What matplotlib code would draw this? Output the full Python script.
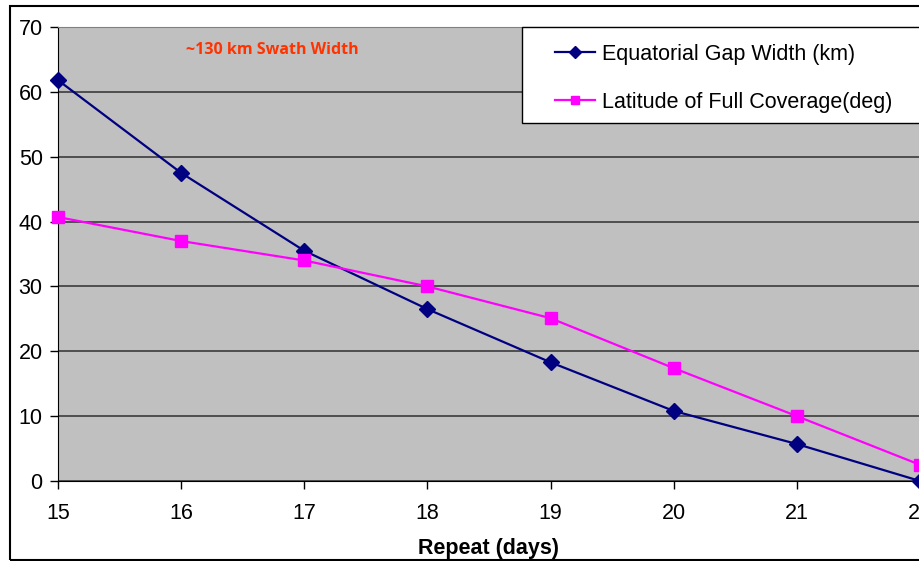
import numpy as np
import matplotlib.pyplot as plt
from matplotlib.patches import Rectangle

plt.rcParams['font.family'] = ['Liberation Sans', 'DejaVu Sans']

repeat_days = [15, 16, 17, 18, 19, 20, 21, 22]
gap_width = [61.8, 47.5, 35.5, 26.5, 18.3, 10.8, 5.7, 0.0]
full_lat = [40.7, 37.0, 34.0, 30.0, 25.1, 17.4, 10.0, 2.5]

fig = plt.figure(figsize=(9.19, 5.61), dpi=100)
ax = fig.add_axes([58 / 919, 1 - 481 / 561, 862 / 919, 454 / 561])
ax.set_facecolor('#C0C0C0')

# outer chart border
fig.patches.append(Rectangle((9.5 / 919, 1.5 / 561), 1.2, 554 / 561, transform=fig.transFigure,
                             fill=False, edgecolor='black', linewidth=1.5))

ax.plot(repeat_days, gap_width, '-D', color='#000080', lw=1.6, ms=8,
        label='Equatorial Gap Width (km)', clip_on=False, zorder=3)
ax.plot(repeat_days, full_lat, '-s', color='#FF00FF', lw=1.6, ms=8,
        label='Latitude of Full Coverage(deg)', clip_on=False, zorder=3)

ax.set_xlim(15, 22)
ax.set_ylim(0, 70)
ax.set_yticks(np.arange(0, 71, 10))
ax.set_xticks(repeat_days)
ax.grid(axis='y', color='#303030', lw=1.1)
ax.set_axisbelow(True)
ax.tick_params(labelsize=15.5, length=6, color='black', width=1)
ax.tick_params(axis='x', pad=10)
ax.tick_params(axis='y', pad=5)
for s in ['left', 'bottom']:
    ax.spines[s].set_color('black')
for s in ['top', 'right']:
    ax.spines[s].set_color('#808080')

ax.set_xlabel('Repeat (days)', fontsize=15.5, fontweight='bold', labelpad=10)

ax.text(16.74, 66.4, '~130 km Swath Width', color='#FF3300', fontsize=11.5,
        fontweight='bold', family=['Open Sans', 'DejaVu Sans'], ha='center', va='center')

# legend box drawn separately, entries placed inside it
ax.add_patch(Rectangle((522 / 919, 1 - 123 / 561), 0.5, 96 / 561, transform=fig.transFigure,
                       facecolor='white', edgecolor='black', linewidth=1.0, zorder=4,
                       clip_on=False))
leg = ax.legend(loc='upper left', bbox_to_anchor=(555 / 919, 1 - 44 / 561),
                bbox_transform=fig.transFigure, borderaxespad=0, borderpad=0, fontsize=15.5,
                frameon=False, handlelength=1.86, labelspacing=1.24, handletextpad=0.33,
                markerscale=0.75)
leg.set_zorder(5)

fig.savefig('out.png', dpi=100)
